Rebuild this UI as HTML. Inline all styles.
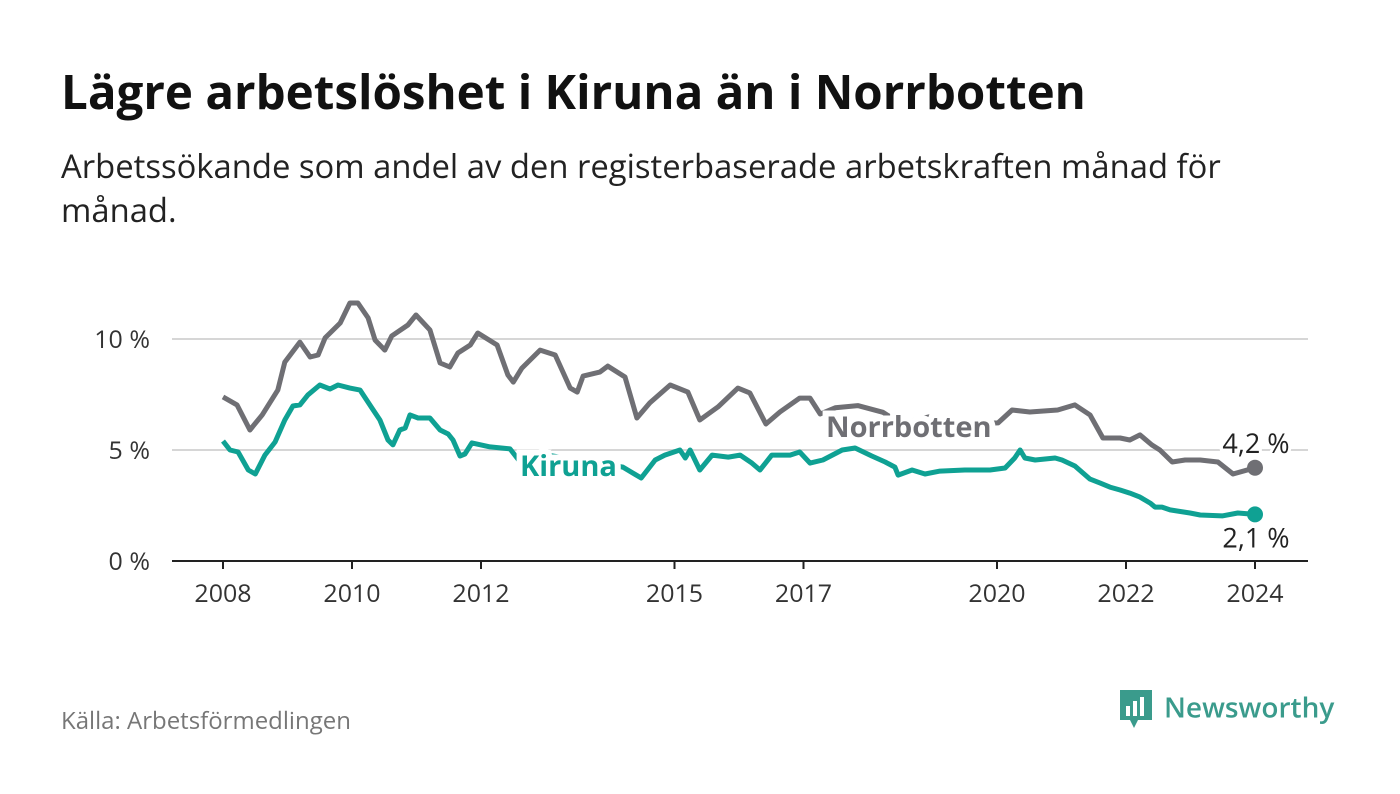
<!DOCTYPE html>
<html><head><meta charset="utf-8">
<style>
body{margin:0;width:1400px;height:794px;background:#fff;font-family:"Open Sans","Liberation Sans","DejaVu Sans",sans-serif;overflow:hidden}
#title{position:absolute;left:61px;top:58px;font-size:47.5px;font-weight:bold;color:#111}
#sub{position:absolute;left:61px;top:144px;font-size:32.8px;color:#222;line-height:44px;width:1200px}
#src{position:absolute;left:61px;top:704px;font-size:24px;color:#777}
#logo{position:absolute;left:1118px;top:688px;font-size:28px;font-weight:600;color:#3a9b8c}
svg{position:absolute;left:0;top:0}
</style></head><body>
<div id="title">Lägre arbetslöshet i Kiruna än i Norrbotten</div>
<div id="sub">Arbetssökande som andel av den registerbaserade arbetskraften månad för månad.</div>
<div id="src">Källa: Arbetsförmedlingen</div>
<div id="logo"><svg width="36" height="44" style="position:static;vertical-align:middle;margin-right:10px"><path d="M2 2h32v30H20l-4 8-4-8H2z" fill="#3a9b8c"/><rect x="8" y="18" width="4" height="10" fill="#fff"/><rect x="15" y="13" width="4" height="15" fill="#fff"/><rect x="22" y="9" width="4" height="19" fill="#fff"/></svg>Newsworthy</div>
<svg id="chart" width="1400" height="794"></svg>
<script>
const yTicks=[0,5,10];
const yTickLabels=["0 %","5 %","10 %"];
const xTicks=[2008,2010,2012,2015,2017,2020,2022,2024];
// months since Jan 2008
const norrMonths=[0,2.6,5,7.3,10.2,11.5,14.3,16.2,17.7,19,21.8,23.6,25.1,27,28.3,30.1,31.4,34.4,35.9,38.5,40.4,42.2,43.7,46,47.4,51,53,54,55.6,59,61.8,64.6,65.9,67,70.1,71.6,74.8,77,79.4,83.2,86.5,88.7,92.1,95.8,98,101,103.6,107.3,109.2,111.1,113.9,118.1,122.8,126,131.5,137,141.8,144.2,146.8,150.1,155.3,158.5,161.3,163.7,166.9,168.7,170.6,172.8,174.3,176.6,179,181.8,185.1,187.9,192];
const norrValues=[7.39,7.03,5.9,6.58,7.7,8.96,9.86,9.19,9.28,10.05,10.72,11.62,11.62,10.95,9.95,9.5,10.14,10.63,11.08,10.41,8.92,8.74,9.37,9.73,10.27,9.73,8.38,8.06,8.69,9.5,9.28,7.79,7.61,8.33,8.51,8.78,8.29,6.44,7.12,7.93,7.61,6.35,6.94,7.79,7.57,6.17,6.71,7.34,7.34,6.62,6.9,7.0,6.7,6.2,6.5,6.1,6.2,6.22,6.8,6.71,6.8,7.03,6.58,5.54,5.54,5.45,5.68,5.23,5.0,4.46,4.55,4.55,4.46,3.92,4.2];
const kirMonths=[0,1.3,2.8,4.7,6,7.8,9.7,11.5,13,14.3,15.8,18,19.9,21.4,23.6,25.5,27.7,29.2,30.7,31.6,32.9,33.9,34.8,36.3,38.5,40.4,41.9,42.8,44.1,45,46.3,49.7,53.4,55.3,57.1,64.6,70.1,74.4,77.8,80.4,82.2,85,86,86.9,88.7,91,94,96.2,98.4,99.9,102.1,105.5,107.3,109.2,111.6,115.2,117.6,120.7,123.2,125,125.6,128.2,130.6,133.4,138,142.7,145.5,147.3,148.3,149.2,151.1,154.8,156.1,158.5,161.3,163.2,165,166.9,168.7,170.6,172.5,173.4,174.7,176.2,179.9,181.8,185.9,188.8,192];
const kirValues=[5.4,5.0,4.91,4.1,3.92,4.77,5.36,6.35,6.98,7.03,7.48,7.93,7.75,7.93,7.79,7.7,6.89,6.35,5.45,5.23,5.9,5.99,6.58,6.44,6.44,5.9,5.72,5.45,4.73,4.82,5.32,5.14,5.05,4.46,4.9,4.6,4.4,4.23,3.74,4.55,4.77,5.0,4.64,5.0,4.1,4.77,4.68,4.77,4.41,4.1,4.77,4.77,4.91,4.41,4.55,5.0,5.09,4.73,4.46,4.23,3.87,4.1,3.92,4.05,4.1,4.1,4.19,4.64,5.0,4.64,4.55,4.64,4.55,4.28,3.69,3.51,3.33,3.2,3.06,2.88,2.61,2.43,2.43,2.3,2.16,2.07,2.03,2.16,2.1];

const NS="http://www.w3.org/2000/svg";
const svg=document.getElementById('chart');
const X=m=>223+m*5.375;
const XY=y=>X((y-2008)*12);
const Y=v=>561-v*22.2;
function mk(t,a,p){const e=document.createElementNS(NS,t);for(const k in a)e.setAttribute(k,a[k]);(p||svg).appendChild(e);return e;}
yTicks.forEach((v,i)=>{
  if(v>0){const g=mk('line',{x1:172,x2:1308,y1:Y(v),y2:Y(v),stroke:'#d6d6d6','stroke-width':2});
  
  }
  const t=mk('text',{x:150,y:Y(v)+9,'text-anchor':'end','font-size':25,fill:'#333'});
  t.textContent=yTickLabels[i];
  
  
});
const ax=mk('line',{x1:172,x2:1308,y1:561,y2:561,stroke:'#222','stroke-width':2});


xTicks.forEach(y=>{
  const tk=mk('line',{x1:XY(y),x2:XY(y),y1:561,y2:569,stroke:'#222','stroke-width':2});
  
  
  const t=mk('text',{x:XY(y),y:602,'text-anchor':'middle','font-size':25,fill:'#333'});
  t.textContent=y;
  
  
});
function line(ms,vs,c,name){
  const d=ms.map((m,i)=>(i?'L':'M')+X(m).toFixed(1)+' '+Y(vs[i]).toFixed(1)).join('');
  const p=mk('path',{d:d,fill:'none',stroke:c,'stroke-width':5,'stroke-linejoin':'round'});
  
  
  const n=ms.length-1;
  const dot=mk('circle',{cx:X(ms[n]),cy:Y(vs[n]),r:8,fill:c});
  
  
}
line(norrMonths,norrValues,'#6f6f74','norrbotten');
line(kirMonths,kirValues,'#0fa193','kiruna');
function lab(x,y,s,c,name){
  const t=mk('text',{x:x,y:y,'font-size':29,'font-weight':'bold',fill:c,stroke:'#fff','stroke-width':12,'paint-order':'stroke'});
  t.textContent=s;
  
  
}
lab(826,437,'Norrbotten','#6f6f74','norrbotten-label');
lab(520,476,'Kiruna','#0fa193','kiruna-label');
function vl(y,s,name){
  const t=mk('text',{x:1256,y:y,'font-size':27,fill:'#222','text-anchor':'middle',stroke:'#fff','stroke-width':6,'paint-order':'stroke'});
  t.textContent=s;
  
  
}
vl(Y(norrValues[norrValues.length-1])-15,'4,2 %','norrbotten-end-value');
vl(Y(kirValues[kirValues.length-1])+33,'2,1 %','kiruna-end-value');
</script>
</body></html>
